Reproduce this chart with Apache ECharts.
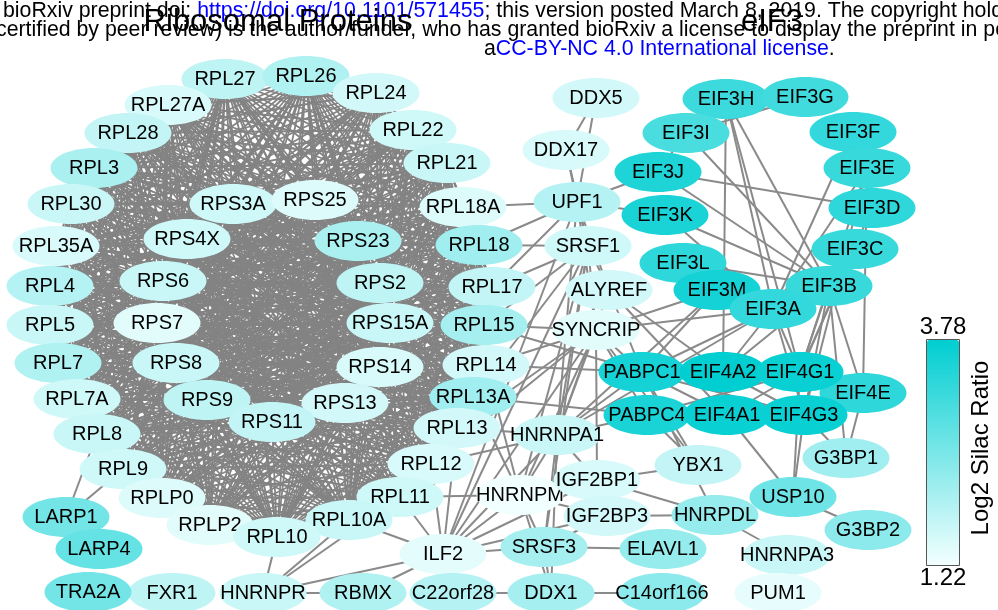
<!DOCTYPE html>
<html>
<head>
<meta charset="utf-8">
<script src="https://cdn.jsdelivr.net/npm/echarts@6/dist/echarts.min.js"></script>
<style>
  html, body { margin: 0; padding: 0; background: #fff; }
  #chart { width: 998px; height: 610px; }
</style>
</head>
<body>
<div id="chart"></div>
<script>
// Protein interaction network: node names, layout coordinates and Log2 SILAC ratios
const proteinNames = [
  'RPL27','RPL26','RPL24','RPL27A','RPL22','RPL28','RPL21','RPL3','RPL18A','RPL30',
  'RPL35A','RPL18','RPL4','RPL17','RPL5','RPL15','RPL7','RPL14','RPL7A','RPL13A',
  'RPL8','RPL13','RPL9','RPL12','RPLP0','RPL11','RPLP2','RPL10A','RPL10',
  'RPS3A','RPS25','RPS4X','RPS23','RPS6','RPS2','RPS7','RPS15A','RPS8','RPS14','RPS9','RPS13','RPS11',
  'DDX5','DDX17','UPF1','SRSF1','ALYREF','SYNCRIP','HNRNPA1','HNRNPM','IGF2BP1','IGF2BP3','YBX1',
  'HNRPDL','HNRNPA3','PUM1','ELAVL1','C14orf166','DDX1','SRSF3','ILF2','C22orf28','RBMX','HNRNPR',
  'FXR1','TRA2A','LARP1','LARP4','G3BP1','G3BP2','USP10',
  'EIF3H','EIF3G','EIF3I','EIF3F','EIF3J','EIF3E','EIF3K','EIF3D','EIF3C','EIF3L','EIF3B','EIF3M','EIF3A',
  'EIF4E','PABPC1','EIF4A2','EIF4G1','PABPC4','EIF4G3','EIF4A1'
];
const layoutX = [
  225, 306, 376, 168, 413, 128, 447, 94, 463, 71,
  56, 479, 50, 492, 50, 484, 58, 486, 77, 473,
  97, 457, 123, 431, 162, 400, 210, 349, 277,
  233, 315, 187, 358, 163, 380, 157, 390, 176, 380, 207, 345, 272,
  596, 566, 577, 588, 609, 596, 557, 520, 597, 607, 698,
  715, 787, 778, 663, 662, 551, 544, 443, 453, 363, 263,
  172, 88, 66, 99, 846, 868, 793,
  726, 805, 686, 853, 658, 867, 665, 872, 855, 683, 829, 717, 773,
  863, 642, 723, 800, 647, 804, 727
];
const layoutY = [
  79, 76, 93, 105, 130, 133, 163, 168, 207, 204,
  246, 245, 286, 287, 325, 325, 363, 365, 399, 397,
  434, 428, 469, 464, 498, 497, 525, 520, 537,
  204, 200, 239, 241, 281, 283, 323, 323, 363, 367, 400, 403, 422,
  98, 150, 202, 246, 290, 330, 435, 495, 480, 516, 465,
  515, 555, 593, 549, 593, 593, 547, 554, 593, 593, 593,
  593, 592, 517, 549, 458, 530, 497,
  99, 97, 133, 132, 172, 168, 215, 208, 249, 263, 286, 290, 309,
  393, 372, 372, 372, 415, 415, 415
];
const log2SilacRatio = [
  1.77, 1.93, 1.56, 1.50, 1.60, 1.72, 1.66, 1.98, 1.45, 1.66,
  1.50, 2.09, 1.88, 1.72, 1.66, 2.04, 1.93, 1.56, 1.60, 2.09,
  1.66, 1.56, 1.60, 1.50, 1.45, 1.60, 1.40, 1.66, 1.60,
  1.60, 1.45, 1.60, 1.98, 1.66, 1.77, 1.40, 1.66, 1.66, 1.50, 1.77, 1.56, 1.72,
  1.56, 1.50, 1.88, 1.60, 1.56, 1.40, 1.66, 1.24, 1.50, 1.56, 1.72,
  2.20, 1.66, 1.35, 2.20, 2.30, 2.04, 2.04, 1.37, 1.88, 1.93, 1.66,
  1.77, 2.56, 2.56, 2.72, 2.09, 2.30, 2.62,
  3.15, 3.10, 3.00, 3.25, 3.46, 3.20, 3.52, 3.30, 3.20, 3.30, 3.20, 3.57, 3.25,
  3.30, 3.57, 3.78, 3.68, 3.52, 3.68, 3.68
];

// Ribosomal proteins form one fully interconnected complex
const ribosomalComplex = proteinNames.filter(n => n.startsWith('RPL') || n.startsWith('RPS'));

// Remaining curated interactions
const interactions = [
  ['DDX5','DDX17'],['DDX5','UPF1'],['DDX17','UPF1'],['DDX17','SRSF1'],
  ['UPF1','EIF3J'],['UPF1','EIF3K'],['UPF1','RPL18A'],['UPF1','RPL18'],['UPF1','RPL17'],
  ['UPF1','SRSF1'],['UPF1','ALYREF'],['UPF1','SYNCRIP'],['UPF1','HNRNPA1'],['UPF1','ILF2'],
  ['SRSF1','RPL15'],['SRSF1','RPL13A'],['SRSF1','ALYREF'],['SRSF1','SYNCRIP'],['SRSF1','HNRNPA1'],
  ['SRSF1','HNRNPM'],['SRSF1','SRSF3'],['SRSF1','ILF2'],['SRSF1','RPL18'],['SRSF1','RPL17'],
  ['ALYREF','EIF4A1'],['ALYREF','EIF4A2'],['ALYREF','HNRNPA1'],['ALYREF','PABPC1'],
  ['SYNCRIP','EIF3A'],['SYNCRIP','EIF3M'],['SYNCRIP','PABPC1'],['SYNCRIP','PABPC4'],['SYNCRIP','HNRNPA1'],
  ['SYNCRIP','HNRNPM'],['SYNCRIP','ILF2'],['SYNCRIP','IGF2BP1'],['SYNCRIP','RPL15'],['SYNCRIP','RPL14'],
  ['SYNCRIP','YBX1'],['SYNCRIP','RPL13'],['SYNCRIP','RPL12'],
  ['RPL14','PABPC1'],['RPL15','PABPC1'],['RPL13A','PABPC4'],['RPL13','HNRNPA1'],['RPL12','HNRNPA1'],
  ['RPL11','HNRNPM'],['RPL11','ILF2'],['RPL10A','ILF2'],['RPL12','ILF2'],['RPL13','ILF2'],
  ['RPL10','HNRNPR'],['RPL10A','HNRNPR'],['RPL11','HNRNPR'],['RPL9','LARP1'],['RPL8','LARP1'],
  ['RPL13A','HNRNPM'],['RPL14','HNRNPM'],
  ['HNRNPA1','PABPC4'],['HNRNPA1','PABPC1'],['HNRNPA1','HNRNPM'],['HNRNPA1','ILF2'],['HNRNPA1','IGF2BP1'],
  ['HNRNPA1','SRSF3'],['HNRNPA1','DDX1'],['HNRNPA1','EIF3A'],['HNRNPA1','EIF3M'],
  ['HNRNPM','ILF2'],['HNRNPM','IGF2BP3'],['HNRNPM','SRSF3'],['HNRNPM','DDX1'],
  ['ILF2','HNRNPR'],['ILF2','RBMX'],['ILF2','SRSF3'],['ILF2','IGF2BP1'],['ILF2','IGF2BP3'],
  ['IGF2BP1','YBX1'],['IGF2BP1','HNRPDL'],['IGF2BP3','HNRPDL'],['IGF2BP3','SRSF3'],['IGF2BP1','IGF2BP3'],
  ['SRSF3','ELAVL1'],['SRSF3','DDX1'],['DDX1','C14orf166'],['DDX1','C22orf28'],['HNRNPR','RBMX'],
  ['HNRPDL','HNRNPA3'],['PABPC1','YBX1'],['PABPC4','YBX1'],['PABPC1','HNRPDL'],['EIF4A1','USP10'],
  ['USP10','G3BP2'],['USP10','EIF4G3'],['USP10','EIF4G1'],['G3BP1','EIF4E'],['G3BP1','EIF4G3'],['G3BP1','EIF3B'],
  ['PABPC1','EIF4A2'],['PABPC1','EIF4G1'],['PABPC1','EIF4A1'],['PABPC4','EIF4G1'],['PABPC4','EIF4A1'],
  ['PABPC4','EIF4G3'],['EIF4A2','EIF4G1'],['EIF4A2','EIF4G3'],['EIF4A1','EIF4G1'],['EIF4A1','EIF4G3'],
  ['EIF4G1','EIF4E'],['EIF4G3','EIF4E'],['PABPC1','EIF4G3'],
  ['EIF3H','EIF4A2'],['EIF3H','EIF3B'],['EIF3H','EIF4G1'],['EIF3G','EIF3I'],['EIF3I','EIF3B'],['EIF3I','EIF3J'],
  ['EIF3J','EIF3D'],['EIF3J','EIF3B'],['EIF3K','EIF3B'],['EIF3K','EIF3A'],['EIF3L','EIF3B'],['EIF3L','EIF3A'],
  ['EIF3F','EIF3A'],['EIF3E','EIF3A'],['EIF3E','EIF4G1'],['EIF3E','EIF4G3'],['EIF3E','EIF4E'],['EIF3D','EIF4G1'],
  ['EIF3C','EIF4G1'],['EIF3B','EIF4G1'],['EIF3B','EIF4G3'],['EIF3B','EIF4E'],['EIF3A','EIF4G1'],['EIF3A','EIF4A2'],
  ['EIF3A','EIF4G3'],['EIF3M','PABPC1'],['EIF3A','PABPC1'],['EIF3B','EIF4A2'],['EIF3H','EIF3A'],
  ['LARP1','LARP4']
];

// Colour scale bounds shown on the colour bar
const ratioTicks = ['3.78', '1.22'];
const ratioMin = 1.22, ratioMax = 3.78;

const links = [];
for (let i = 0; i < ribosomalComplex.length; i++) {
  for (let j = i + 1; j < ribosomalComplex.length; j++) {
    links.push({ source: ribosomalComplex[i], target: ribosomalComplex[j],
      lineStyle: { width: 1.8, color: '#838383' } });
  }
}
interactions.forEach(p => links.push({ source: p[0], target: p[1] }));

const graphNodes = proteinNames.map((n, i) => ({ name: n, value: [layoutX[i], layoutY[i]] }));
const proteinPoints = proteinNames.map((n, i) => ({ name: n, value: [layoutX[i], layoutY[i], log2SilacRatio[i]] }));

const FONT = '"Liberation Sans", Arial, sans-serif';
const HEAD = '21.3px ' + FONT;
const BAR = { left: 927, top: 340, width: 32, height: 225 };
const NODE_RX = 43.5, NODE_RY = 20;
const chart = echarts.init(document.getElementById('chart'), null, { renderer: 'canvas' });

// Each protein is an ellipse with its name; drawn in list order so later nodes overlap earlier ones
function renderProtein(params, api) {
  const p = api.coord([api.value(0), api.value(1)]);
  return {
    type: 'group',
    children: [
      { type: 'ellipse', shape: { cx: p[0], cy: p[1], rx: NODE_RX, ry: NODE_RY },
        style: { fill: api.visual('color') } },
      { type: 'text', x: p[0], y: p[1],
        style: { text: proteinNames[params.dataIndex], font: '20px ' + FONT, fill: '#000',
                 align: 'center', verticalAlign: 'middle' } }
    ]
  };
}

chart.setOption({
  animation: false,
  backgroundColor: '#ffffff',
  grid: { left: 0, right: 0, top: 0, bottom: 0 },
  xAxis: { type: 'value', min: 0, max: 998, show: false },
  yAxis: { type: 'value', min: 0, max: 610, inverse: true, show: false },
  visualMap: {
    type: 'continuous',
    seriesIndex: 1,
    dimension: 2,
    min: ratioMin,
    max: ratioMax,
    calculable: false,
    orient: 'vertical',
    left: BAR.left,
    top: BAR.top,
    padding: 0,
    itemWidth: BAR.width,
    itemHeight: BAR.height,
    inRange: { color: ['#f3ffff', '#00ced1'] }
  },
  graphic: [
    {
      type: 'text', x: 3, y: 11,
      style: {
        text: 'bioRxiv preprint doi: {l|https://doi.org/10.1101/571455}; this version posted March 8, 2019. The copyright holder for this preprint (which was not',
        font: HEAD, fill: '#000', verticalAlign: 'middle',
        rich: { l: { fill: '#0000ff', font: HEAD } }
      }, z: 0
    },
    {
      type: 'text', x: -4, y: 30,
      style: {
        text: 'certified by peer review) is the author/funder, who has granted bioRxiv a license to display the preprint in perpetuity. It is made available under',
        font: HEAD, fill: '#000', verticalAlign: 'middle'
      }, z: 0
    },
    {
      type: 'text', x: 484, y: 49,
      style: {
        text: 'a{l|CC-BY-NC 4.0 International license}.',
        font: HEAD, fill: '#000', verticalAlign: 'middle',
        rich: { l: { fill: '#0000ff', font: HEAD } }
      }, z: 0
    },
    {
      type: 'text', x: 278, y: 22,
      style: { text: 'Ribosomal Proteins', font: '31px ' + FONT, fill: '#000', align: 'center', verticalAlign: 'middle' },
      z: 1
    },
    {
      type: 'text', x: 772, y: 22,
      style: { text: 'eIF3', font: '31px ' + FONT, fill: '#000', align: 'center', verticalAlign: 'middle' },
      z: 1
    },
    {
      type: 'rect', shape: { x: BAR.left - 0.5, y: BAR.top - 0.5, width: BAR.width + 1, height: BAR.height + 1 },
      style: { fill: 'none', stroke: '#555', lineWidth: 1 }, z: 10
    },
    {
      type: 'text', x: BAR.left + BAR.width / 2, y: BAR.top - 13,
      style: { text: ratioTicks[0], font: '24px ' + FONT, fill: '#000', align: 'center', verticalAlign: 'middle' },
      z: 1
    },
    {
      type: 'text', x: BAR.left + BAR.width / 2, y: BAR.top + BAR.height + 13,
      style: { text: ratioTicks[1], font: '24px ' + FONT, fill: '#000', align: 'center', verticalAlign: 'middle' },
      z: 1
    },
    {
      type: 'text', x: 981, y: 448, rotation: Math.PI / 2,
      style: { text: 'Log2 Silac Ratio', font: '24px ' + FONT, fill: '#000', align: 'center', verticalAlign: 'middle' },
      z: 1
    }
  ],
  series: [
    {
      type: 'graph',
      coordinateSystem: 'cartesian2d',
      layout: 'none',
      symbolSize: 0,
      label: { show: false },
      data: graphNodes,
      links: links,
      lineStyle: { color: '#8a8a8a', width: 2, opacity: 1, curveness: 0 },
      emphasis: { disabled: true },
      z: 2
    },
    {
      type: 'custom',
      coordinateSystem: 'cartesian2d',
      renderItem: renderProtein,
      data: proteinPoints,
      encode: { x: 0, y: 1 },
      clip: false,
      z: 3
    }
  ]
});
</script>
</body>
</html>
